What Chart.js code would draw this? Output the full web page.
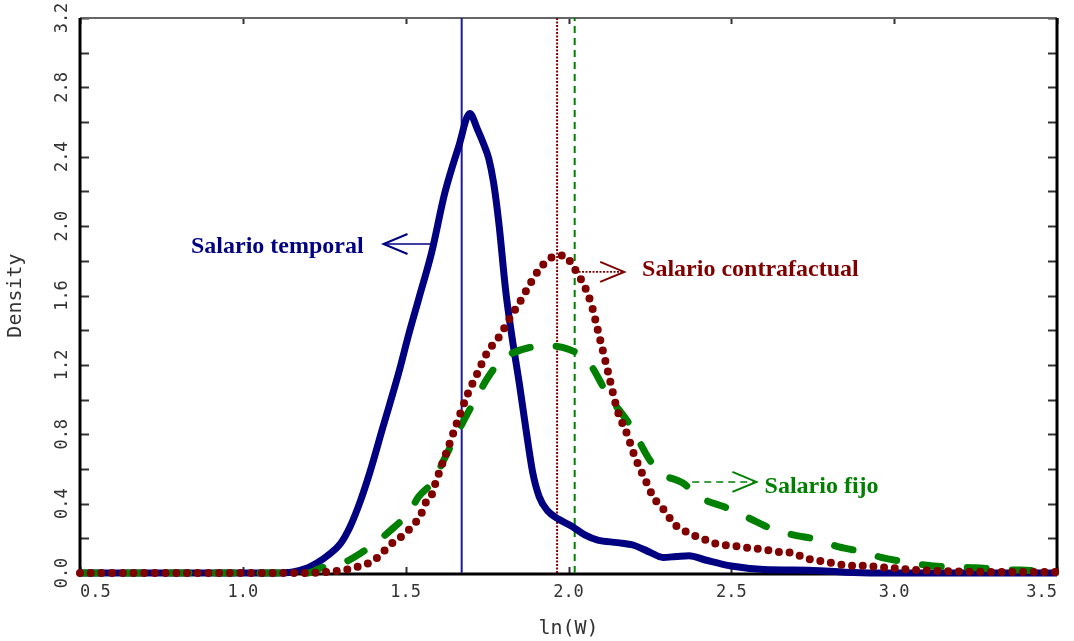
<!DOCTYPE html>
<html lang="es">
<head>
<meta charset="UTF-8">
<title>Densidad de ln(W)</title>
<script src="https://cdn.jsdelivr.net/npm/chart.js"></script>
<style>
    body { margin: 0; background: #fff; }
    canvas { display: block; }
</style>
</head>
<body>
<canvas id="densityChart" width="1074" height="641"></canvas>
<script>
// values
const tempX = [0.5, 1.1, 1.15, 1.2, 1.23, 1.26, 1.3, 1.33, 1.36, 1.39, 1.43, 1.478, 1.51, 1.54, 1.58, 1.62, 1.663, 1.697, 1.72, 1.74, 1.755, 1.77, 1.786, 1.807, 1.825, 1.85, 1.87, 1.89, 1.91, 1.935, 1.97, 2.01, 2.05, 2.09, 2.15, 2.2, 2.25, 2.29, 2.33, 2.37, 2.42, 2.5, 2.6, 2.75, 2.85, 3.0, 3.5];
const tempY = [0, 0, 0.005, 0.03, 0.06, 0.10, 0.17, 0.27, 0.41, 0.58, 0.84, 1.15, 1.38, 1.58, 1.85, 2.19, 2.46, 2.65, 2.56, 2.47, 2.39, 2.25, 2.02, 1.63, 1.38, 1.08, 0.82, 0.58, 0.44, 0.36, 0.31, 0.27, 0.22, 0.19, 0.175, 0.16, 0.12, 0.09, 0.095, 0.10, 0.075, 0.04, 0.02, 0.015, 0.005, 0, 0];

const cfX = [0.5, 1.2, 1.25, 1.28, 1.32, 1.35, 1.39, 1.42, 1.45, 1.48, 1.51, 1.53, 1.55, 1.56, 1.58, 1.59, 1.63, 1.66, 1.69, 1.72, 1.75, 1.79, 1.82, 1.85, 1.88, 1.91, 1.94, 1.97, 1.99, 2.01, 2.03, 2.05, 2.07, 2.09, 2.12, 2.15, 2.18, 2.2, 2.22, 2.24, 2.26, 2.28, 2.3, 2.32, 2.35, 2.38, 2.41, 2.45, 2.51, 2.55, 2.58, 2.62, 2.65, 2.69, 2.72, 2.75, 2.79, 2.85, 2.92, 2.98, 3.05, 3.15, 3.5];
const cfY = [0, 0, 0.005, 0.01, 0.02, 0.035, 0.06, 0.10, 0.16, 0.20, 0.25, 0.29, 0.35, 0.40, 0.45, 0.51, 0.72, 0.88, 1.03, 1.15, 1.27, 1.37, 1.47, 1.56, 1.66, 1.75, 1.81, 1.83, 1.83, 1.78, 1.72, 1.65, 1.55, 1.40, 1.17, 0.94, 0.80, 0.69, 0.60, 0.52, 0.44, 0.39, 0.35, 0.29, 0.25, 0.22, 0.20, 0.17, 0.155, 0.145, 0.14, 0.13, 0.12, 0.115, 0.09, 0.075, 0.065, 0.045, 0.04, 0.03, 0.02, 0.01, 0.005];

const fixX = [0.5, 1.2, 1.24, 1.31, 1.39, 1.45, 1.51, 1.54, 1.58, 1.63, 1.69, 1.72, 1.75, 1.79, 1.82, 1.88, 1.94, 2.0, 2.06, 2.12, 2.19, 2.25, 2.28, 2.35, 2.41, 2.48, 2.55, 2.63, 2.69, 2.77, 2.83, 2.91, 2.96, 3.03, 3.10, 3.17, 3.25, 3.33, 3.42, 3.5];
const fixY = [0, 0, 0.03, 0.06, 0.15, 0.24, 0.35, 0.44, 0.52, 0.70, 0.92, 1.02, 1.12, 1.22, 1.26, 1.30, 1.31, 1.29, 1.22, 1.03, 0.85, 0.65, 0.58, 0.52, 0.43, 0.38, 0.32, 0.25, 0.22, 0.19, 0.15, 0.12, 0.09, 0.065, 0.045, 0.035, 0.03, 0.02, 0.015, 0.01];

// vertical reference lines (temporal, contrafactual, fijo)
const meanX = [1.672, 1.965, 2.019];

const noteText = ['Salario temporal', 'Salario contrafactual', 'Salario fijo'];
const noteX = [1.371, 2.226, 2.602];
const noteY = [1.88, 1.747, 0.496];
const arrowStart = [1.58, 2.02, 2.38];
const arrowTip = [1.432, 2.171, 2.577];
const arrowY = [1.897, 1.736, 0.525];

const NAVY = '#000080', MAROON = '#800000', GREEN = '#008000';
const noteColor = [NAVY, MAROON, GREEN];
const arrowDash = [[], [2, 1.5], [7, 5]];

const pts = (xs, ys) => xs.map((x, i) => ({ x: x, y: ys[i] }));
const vline = x => [{ x: x, y: 0 }, { x: x, y: 3.2 }];

const tickFont = { family: 'DejaVu Sans Mono', size: 17 };
const titleFont = { family: 'DejaVu Sans Mono', size: 20 };

// frame with inward ticks on all four sides
const frame = {
    id: 'frame',
    beforeDatasetsDraw(chart) {
        const ctx = chart.ctx;
        const { left, right, top, bottom } = chart.chartArea;
        const xs = chart.scales.x, ys = chart.scales.y;
        ctx.save();
        ctx.strokeStyle = '#333';
        ctx.lineWidth = 2;
        ctx.beginPath();
        ys.ticks.forEach(t => {
            const py = Math.round(ys.getPixelForValue(t.value)) + 0.5;
            ctx.moveTo(left, py); ctx.lineTo(left + 9, py);
            ctx.moveTo(right - 9, py); ctx.lineTo(right, py);
        });
        xs.ticks.forEach(t => {
            const px = Math.round(xs.getPixelForValue(t.value)) + 0.5;
            ctx.moveTo(px, bottom); ctx.lineTo(px, bottom - 6);
            ctx.moveTo(px, top); ctx.lineTo(px, top + 6);
        });
        ctx.stroke();
        ctx.strokeStyle = '#666';
        ctx.lineWidth = 2;
        ctx.beginPath();
        ctx.moveTo(left, top); ctx.lineTo(right, top);
        ctx.stroke();
        ctx.strokeStyle = '#000';
        ctx.lineWidth = 3;
        ctx.beginPath();
        ctx.moveTo(left, top); ctx.lineTo(left, bottom + 1);
        ctx.lineTo(right, bottom + 1); ctx.lineTo(right, top);
        ctx.stroke();
        ctx.restore();
    }
};

// text labels with arrows
const notes = {
    id: 'notes',
    afterDatasetsDraw(chart) {
        const ctx = chart.ctx;
        const xs = chart.scales.x, ys = chart.scales.y;
        ctx.save();
        noteText.forEach((txt, i) => {
            const x0 = xs.getPixelForValue(arrowStart[i]);
            const x1 = xs.getPixelForValue(arrowTip[i]);
            const ay = ys.getPixelForValue(arrowY[i]);
            const dir = x1 > x0 ? 1 : -1;
            ctx.strokeStyle = noteColor[i];
            ctx.lineWidth = 1.6;
            ctx.setLineDash(arrowDash[i]);
            ctx.beginPath();
            ctx.moveTo(x0, ay); ctx.lineTo(x1, ay);
            ctx.stroke();
            ctx.setLineDash([]);
            ctx.lineWidth = 2;
            ctx.beginPath();
            ctx.moveTo(x1 - dir * 24, ay - 10);
            ctx.lineTo(x1, ay);
            ctx.lineTo(x1 - dir * 24, ay + 10);
            ctx.stroke();

            ctx.fillStyle = noteColor[i];
            ctx.font = 'bold 24px "Liberation Serif"';
            ctx.textBaseline = 'middle';
            ctx.textAlign = i === 0 ? 'right' : 'left';
            ctx.fillText(txt, xs.getPixelForValue(noteX[i]), ys.getPixelForValue(noteY[i]));
        });
        ctx.restore();
    }
};

const ctx = document.getElementById('densityChart').getContext('2d');

new Chart(ctx, {
    type: 'line',
    data: {
        datasets: [
            {
                label: 'Salario contrafactual',
                data: pts(cfX, cfY),
                borderColor: MAROON,
                borderWidth: 8,
                borderDash: [0, 10.7],
                borderCapStyle: 'round',
                cubicInterpolationMode: 'monotone',
                order: 1
            },
            {
                label: 'Salario fijo',
                data: pts(fixX, fixY),
                borderColor: GREEN,
                borderWidth: 7,
                borderDash: [19, 26],
                borderCapStyle: 'round',
                cubicInterpolationMode: 'monotone',
                order: 2
            },
            {
                label: 'Salario temporal',
                data: pts(tempX, tempY),
                borderColor: NAVY,
                borderWidth: 7,
                borderJoinStyle: 'round',
                cubicInterpolationMode: 'monotone',
                order: 3
            },
            { data: vline(meanX[0]), borderColor: '#1a1a9a', borderWidth: 2, order: 6 },
            { data: vline(meanX[1]), borderColor: MAROON, borderWidth: 2, borderDash: [2, 1.5], order: 5 },
            { data: vline(meanX[2]), borderColor: GREEN, borderWidth: 2, borderDash: [7, 5], order: 4 }
        ]
    },
    options: {
        responsive: false,
        animation: false,
        clip: false,
        layout: { padding: { top: 18, right: 17, left: 0, bottom: 0 } },
        elements: { point: { radius: 0 }, line: { tension: 0 } },
        plugins: {
            legend: { display: false },
            tooltip: { enabled: false }
        },
        scales: {
            x: {
                type: 'linear',
                min: 0.5,
                max: 3.5,
                afterFit: s => { s.height = 68; },
                grid: { display: false, drawTicks: false },
                border: { display: false },
                ticks: {
                    stepSize: 0.5,
                    autoSkip: false,
                    maxRotation: 0,
                    align: 'inner',
                    padding: 9,
                    color: '#333',
                    font: tickFont,
                    callback: v => v.toFixed(1)
                },
                title: {
                    display: true,
                    text: 'ln(W)',
                    color: '#333',
                    font: titleFont,
                    padding: { top: 0, bottom: 0 }
                }
            },
            y: {
                min: 0,
                max: 3.2,
                afterFit: s => { s.width = 80; },
                grid: { display: false, drawTicks: false },
                border: { display: false },
                ticks: {
                    stepSize: 0.2,
                    autoSkip: false,
                    minRotation: 90,
                    maxRotation: 90,
                    crossAlign: 'center',
                    padding: 2,
                    color: '#333',
                    font: tickFont,
                    callback: v => (Math.round(v * 10) % 4 === 0 ? v.toFixed(1) : '')
                },
                title: {
                    display: true,
                    text: 'Density',
                    color: '#333',
                    font: titleFont,
                    padding: { top: 4, bottom: 0 }
                }
            }
        }
    },
    plugins: [frame, notes]
});
</script>
</body>
</html>
